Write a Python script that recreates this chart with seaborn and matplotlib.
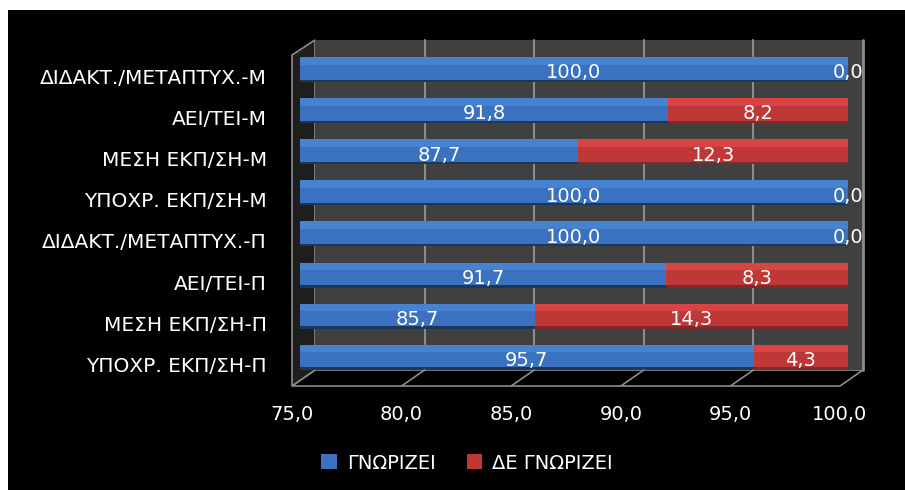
"""
Horizontal stacked bar chart: knows / does not know, by education level.
"""

import matplotlib
matplotlib.use("Agg")
import matplotlib.pyplot as plt
import matplotlib.transforms as mtransforms
from matplotlib.patches import Rectangle, Polygon
import pandas as pd
import seaborn as sns

categories = [
    "ΔΙΔΑΚΤ./ΜΕΤΑΠΤΥΧ.-Μ",
    "ΑΕΙ/ΤΕΙ-Μ",
    "ΜΕΣΗ ΕΚΠ/ΣΗ-Μ",
    "ΥΠΟΧΡ. ΕΚΠ/ΣΗ-Μ",
    "ΔΙΔΑΚΤ./ΜΕΤΑΠΤΥΧ.-Π",
    "ΑΕΙ/ΤΕΙ-Π",
    "ΜΕΣΗ ΕΚΠ/ΣΗ-Π",
    "ΥΠΟΧΡ. ΕΚΠ/ΣΗ-Π",
]
knows = [100.0, 91.8, 87.7, 100.0, 100.0, 91.7, 85.7, 95.7]
not_knows = [0.0, 8.2, 12.3, 0.0, 0.0, 8.3, 14.3, 4.3]
series_names = ["ΓΝΩΡΙΖΕΙ", "ΔΕ ΓΝΩΡΙΖΕΙ"]
x_ticks = [75, 80, 85, 90, 95, 100]

BLUE, BLUE_TOP = "#3a72bf", "#4682d0"
RED, RED_TOP = "#bf3838", "#d84444"
WALL = "#404040"
EDGE = "#8c8c8c"
FS = 14

df = pd.DataFrame({"cat": categories, "knows": knows, "not": not_knows})
df["total"] = df["knows"] + df["not"]

sns.set_theme(style="dark")
plt.rcParams["font.family"] = ["DejaVu Sans"]
plt.rcParams["font.size"] = FS

fig = plt.figure(figsize=(9.05, 4.9), dpi=100)
fig.patch.set_facecolor("white")
fig.patches.append(Rectangle((8 / 905, 0), 1, 480 / 490, transform=fig.transFigure,
                             facecolor="black", edgecolor="none", zorder=-10))

ax = fig.add_axes([300 / 905, 104 / 490, 548 / 905, 346 / 490])
ax.set_facecolor("none")

# 3D box: floor, left wall, back wall
px = 1 / 548.0
py = 1 / 346.0
wall_bot = 16 * py
ax.add_patch(Polygon([(-8 * px, 0), (540 * px, 0), (563 * px, wall_bot), (15 * px, wall_bot)],
                     closed=True, transform=ax.transAxes, facecolor="black",
                     edgecolor=EDGE, lw=1.2, clip_on=False, zorder=0))
ax.add_patch(Polygon([(-8 * px, 0), (-8 * px, 1 - 15 * py), (15 * px, 1), (15 * px, wall_bot)],
                     closed=True, transform=ax.transAxes, facecolor="#1e1e1e",
                     edgecolor=EDGE, lw=1.2, clip_on=False, zorder=0))
ax.add_patch(Rectangle((15 * px, wall_bot), 1, 1 - wall_bot, transform=ax.transAxes,
                       facecolor=WALL, edgecolor="none", clip_on=False, zorder=0))
ax.plot([563 * px, 563 * px], [wall_bot, 1], transform=ax.transAxes, color=EDGE,
        lw=2, clip_on=False, zorder=0.5)

# stacked bars: total first (red), then blue on top
sns.barplot(data=df, y="cat", x="total", color=RED, orient="h", width=0.61,
            saturation=1, label=series_names[1], ax=ax, zorder=2, linewidth=0)
sns.barplot(data=df, y="cat", x="knows", color=BLUE, orient="h", width=0.61,
            saturation=1, label=series_names[0], ax=ax, zorder=2, linewidth=0)
if ax.get_legend() is not None:
    ax.get_legend().remove()

ax.set_xlim(x_ticks[0], x_ticks[-1])
ax.set_ylim(len(categories) - 0.3, -0.72)

# top highlight / bottom shade on every bar
for p in list(ax.patches):
    if not isinstance(p, Rectangle) or p.get_zorder() != 2:
        continue
    top = BLUE_TOP if p.get_facecolor()[2] > 0.5 else RED_TOP
    ax.add_patch(Rectangle((p.get_x(), p.get_y()), p.get_width(),
                           p.get_height() * 0.3, facecolor=top, edgecolor="none", zorder=2.1))
    ax.add_patch(Rectangle((p.get_x(), p.get_y() + p.get_height() * 0.9), p.get_width(),
                           p.get_height() * 0.1, facecolor="black", alpha=0.3,
                           edgecolor="none", zorder=2.1))

# gridlines on the back wall and floor
blend = mtransforms.blended_transform_factory(ax.transData, ax.transAxes)
back = blend + mtransforms.ScaledTranslation(15 / 100, 0, fig.dpi_scale_trans)
front = blend + mtransforms.ScaledTranslation(-8 / 100, 0, fig.dpi_scale_trans)
for t in x_ticks[1:-1]:
    ax.plot([t, t], [wall_bot, 1], transform=back, color=EDGE, lw=1.5, zorder=1, clip_on=False)
    ax.annotate("", xy=(t, wall_bot), xycoords=back, xytext=(t, 0), textcoords=front,
                arrowprops=dict(arrowstyle="-", color=EDGE, lw=1.2, shrinkA=0, shrinkB=0))

# value labels
fmt = lambda v: f"{v:.1f}".replace(".", ",")
for i, (k, n) in enumerate(zip(knows, not_knows)):
    ax.text((x_ticks[0] + k) / 2, i + 0.08, fmt(k), ha="center", va="center",
            color="white", fontsize=FS, zorder=5)
    ax.text(k + n / 2, i + 0.08, fmt(n), ha="center", va="center",
            color="white", fontsize=FS, zorder=5)

ax.set_xticks(x_ticks)
ax.xaxis.set_major_formatter(lambda v, p: fmt(v))
ax.tick_params(axis="x", length=0, pad=14, colors="white", labelsize=FS)
ax.tick_params(axis="y", length=0, pad=24, colors="white", labelsize=14.5)
for lbl in ax.get_xticklabels():
    lbl.set_transform(lbl.get_transform() + mtransforms.ScaledTranslation(-8 / 100, 0, fig.dpi_scale_trans))
for lbl in ax.get_yticklabels():
    lbl.set_transform(lbl.get_transform() + mtransforms.ScaledTranslation(0, -7 / 100, fig.dpi_scale_trans))
ax.set_xlabel("")
ax.set_ylabel("")
ax.grid(False)
for s in ax.spines.values():
    s.set_visible(False)

handles, labels = ax.get_legend_handles_labels()
fig.legend(handles[::-1], labels[::-1], loc="center", bbox_to_anchor=(467 / 905, 27 / 490),
           ncol=2, frameon=False, fontsize=FS, labelcolor="white",
           handlelength=0.8, handleheight=0.8, handletextpad=0.5, columnspacing=1.6)

fig.savefig("out.png", dpi=100, facecolor=fig.get_facecolor())
